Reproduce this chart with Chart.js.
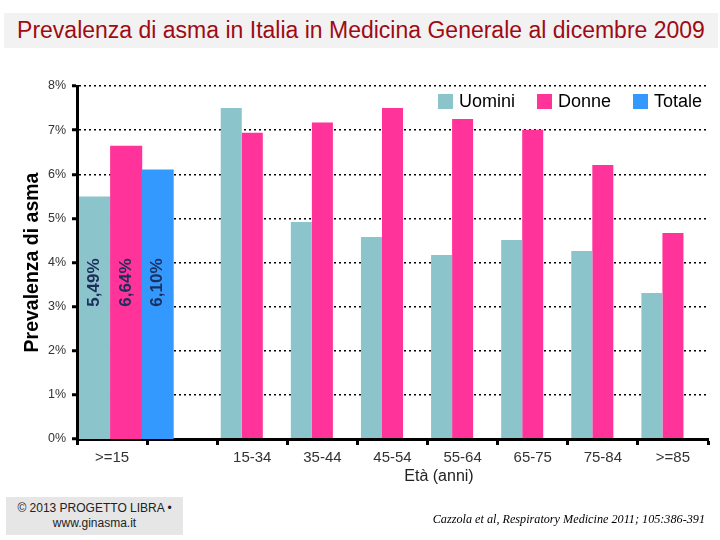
<!DOCTYPE html>
<html>
<head>
<meta charset="utf-8">
<script src="https://cdn.jsdelivr.net/npm/chart.js@4.4.0/dist/chart.umd.min.js"></script>
<style>
body { margin: 0; background: #fff; font-family: "Liberation Sans", Arial, sans-serif; }
#wrap { position: relative; width: 720px; height: 540px; overflow: hidden; }
#chart, #overall { position: absolute; left: 0; top: 0; }
#title { position: absolute; left: 4px; top: 13px; width: 714px; height: 35px; background: #f2f2f2;
  color: #a00a14; font-size: 23px; line-height: 35px; text-align: center; white-space: nowrap; }
#legend { position: absolute; top: 91px; right: 18px; display: flex; font-size: 18px; color: #000; }
.item { display: flex; align-items: center; margin-left: 22px; }
.sw { width: 15px; height: 15px; margin-right: 6px; }
#xtitle { position: absolute; left: 379px; width: 120px; top: 467px; text-align: center; font-size: 16px; color: #222; }
#credit { position: absolute; left: 6px; top: 497px; width: 177px; height: 38px; background: #e6e6e6;
  font-size: 12px; color: #222; text-align: center; line-height: 15px; padding-top: 4px; box-sizing: border-box; }
#cite { position: absolute; right: 15px; top: 512px; font-family: "Liberation Serif", "Times New Roman", serif;
  font-style: italic; font-size: 12.2px; color: #000; white-space: nowrap; }
</style>
</head>
<body>
<div id="wrap">
  <canvas id="chart" width="720" height="540"></canvas>
  <canvas id="overall" width="720" height="540"></canvas>
  <div id="title">Prevalenza di asma in Italia in Medicina Generale al dicembre 2009</div>
  <div id="legend"></div>
  <div id="xtitle">Età (anni)</div>
  <div id="credit">© 2013 PROGETTO LIBRA •<br>www.ginasma.it</div>
  <div id="cite">Cazzola et al, Respiratory Medicine 2011; 105:386-391</div>
</div>
<script>
// età
var ageGroups = ['15-34', '35-44', '45-54', '55-64', '65-75', '75-84', '>=85'];
var uomini = [7.50, 4.92, 4.58, 4.17, 4.51, 4.26, 3.31];
var donne = [6.94, 7.17, 7.50, 7.25, 7.01, 6.21, 4.67];

// >=15 totale per serie
var seriesNames = ['Uomini', 'Donne', 'Totale'];
var overall = [5.49, 6.64, 6.10];

var colors = ['#8cc4cc', '#ff3399', '#3399ff'];

var xLabels = ['>=15', ''].concat(ageGroups);
var pad = [null, null];

// the >=15 bars are wider: own chart on top, 20 slots across the plot
var overallSlots = seriesNames.concat(new Array(17).fill(''));

var fontFamily = '"Liberation Sans", Arial, sans-serif';

var barLabels = {
    id: 'barLabels',
    afterDatasetsDraw: function(chart) {
        var meta = chart.getDatasetMeta(0);
        var y = chart.scales.y.getPixelForValue(3);
        var ctx = chart.ctx;
        ctx.save();
        ctx.font = 'bold 17px ' + fontFamily;
        ctx.fillStyle = '#1d2f5c';
        ctx.textAlign = 'left';
        ctx.textBaseline = 'middle';
        meta.data.forEach(function(bar, i) {
            ctx.save();
            ctx.translate(bar.x, y);
            ctx.rotate(-Math.PI / 2);
            ctx.fillText(overall[i].toFixed(2).replace('.', ',') + '%', 0, 0);
            ctx.restore();
        });
        ctx.restore();
    }
};

var chart = new Chart(document.getElementById('chart'), {
    type: 'bar',
    data: {
        labels: xLabels,
        datasets: [
            { label: seriesNames[0], data: pad.concat(uomini), backgroundColor: colors[0] },
            { label: seriesNames[1], data: pad.concat(donne), backgroundColor: colors[1] },
            { label: seriesNames[2], data: pad.concat(ageGroups.map(function() { return null; })), backgroundColor: colors[2] }
        ]
    },
    options: {
        responsive: false,
        animation: false,
        layout: { padding: { left: 0, right: 12, top: 86, bottom: 0 } },
        datasets: { bar: { barPercentage: 1, categoryPercentage: 0.9 } },
        plugins: {
            legend: { display: false },
            tooltip: { enabled: false }
        },
        scales: {
            x: {
                afterFit: function(s) { s.height = 101; },
                grid: { drawOnChartArea: false, offset: true, color: '#000', tickLength: 6, tickWidth: 3 },
                border: { color: '#000', width: 3 },
                ticks: { color: '#333', padding: 4, maxRotation: 0, autoSkip: false,
                    font: { family: fontFamily, size: 15 } }
            },
            y: {
                min: 0,
                max: 8,
                afterFit: function(s) { s.width = 77; },
                ticks: { stepSize: 1, color: '#333', padding: 6,
                    font: { family: fontFamily, size: 12.5 },
                    callback: function(v) { return v + '%'; } },
                grid: { color: '#000', lineWidth: 1.5, tickLength: 5, tickWidth: 3, tickColor: '#000' },
                border: { color: '#000', width: 3, dash: [2, 3] },
                title: { display: true, text: 'Prevalenza di asma', color: '#000',
                    padding: { top: 21, bottom: 0 },
                    font: { family: fontFamily, size: 19.5, weight: 'bold' } }
            }
        }
    }
});

var overallChart = new Chart(document.getElementById('overall'), {
    type: 'bar',
    data: {
        labels: overallSlots,
        datasets: [
            { label: '>=15', data: overall, backgroundColor: colors, barPercentage: 1, categoryPercentage: 1 }
        ]
    },
    options: {
        responsive: false,
        animation: false,
        layout: { padding: { left: 79, right: 12, top: 86, bottom: 0 } },
        plugins: {
            legend: { display: false },
            tooltip: { enabled: false }
        },
        scales: {
            x: {
                afterFit: function(s) { s.height = 101; },
                ticks: { display: false },
                grid: { display: false },
                border: { color: '#000', width: 3 }
            },
            y: { min: 0, max: 8, display: false }
        }
    },
    plugins: [barLabels]
});

// legenda
var legend = document.getElementById('legend');
chart.data.datasets.forEach(function(ds) {
    var item = document.createElement('div');
    item.className = 'item';
    var sw = document.createElement('div');
    sw.className = 'sw';
    sw.style.background = ds.backgroundColor;
    item.appendChild(sw);
    item.appendChild(document.createTextNode(ds.label));
    legend.appendChild(item);
});
</script>
</body>
</html>
